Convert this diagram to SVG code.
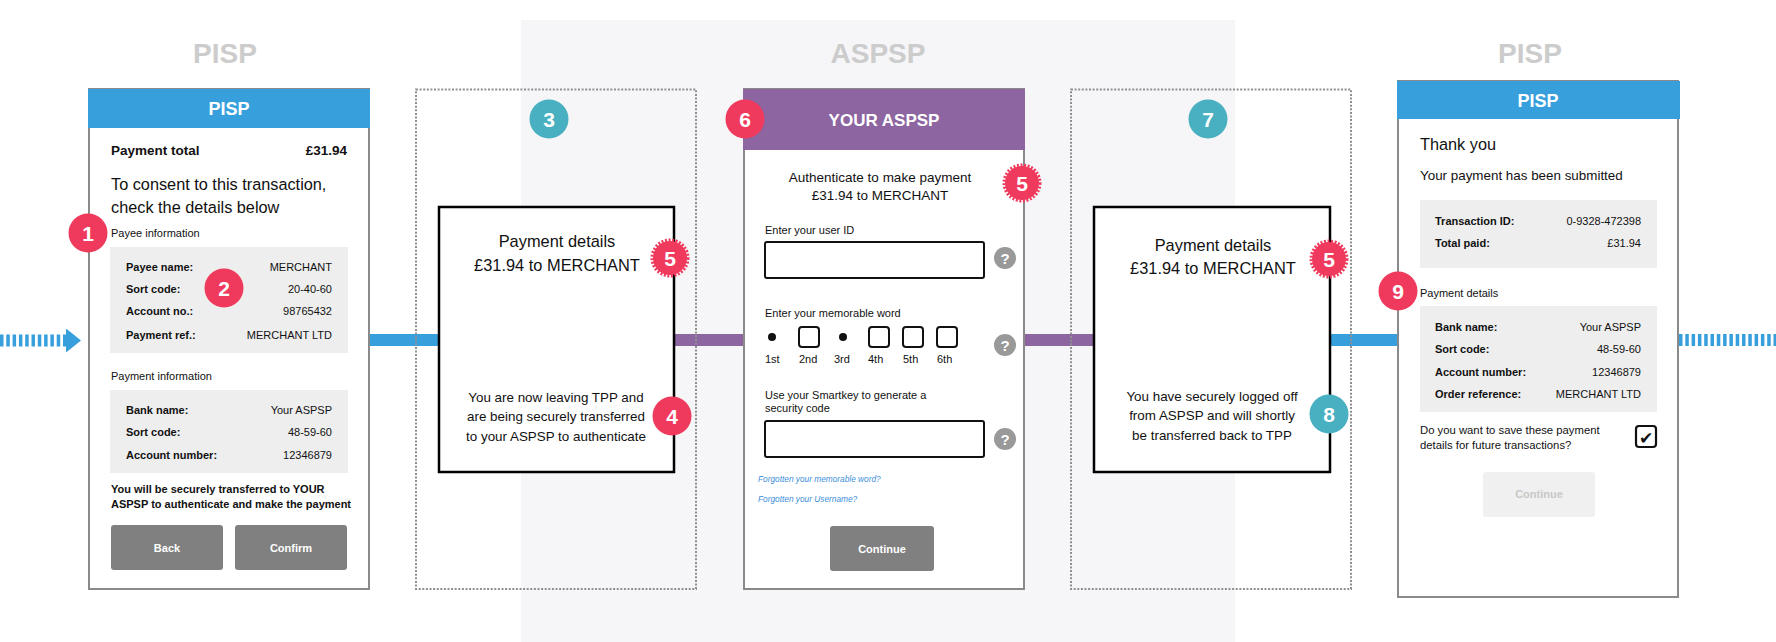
<svg xmlns="http://www.w3.org/2000/svg" width="1776" height="642" viewBox="0 0 1776 642">
<style>
text{font-family:"Liberation Sans",Arial,sans-serif;fill:#111}
.lbl{font-size:28px;font-weight:bold;fill:#cccccc;text-anchor:middle}
.hdr{font-weight:bold;fill:#fff;text-anchor:middle}
.panel{fill:#fff;stroke:#8a8a8a;stroke-width:2}
.dot{fill:none;stroke:#8f8f8f;stroke-width:2;stroke-dasharray:2 1.6}
.inner{fill:#fff;stroke:#000;stroke-width:2.5}
.grey{fill:#eeeeee}
.s11{font-size:11px}
.b11{font-size:11px;font-weight:bold}
.r{text-anchor:end}
.c{text-anchor:middle}
.btn{fill:#808080}
.btxt{font-size:11px;font-weight:bold;fill:#fff;text-anchor:middle}
.red{fill:#ef3a5d}
.teal{fill:#48b0c0}
.num{font-size:21px;font-weight:bold;fill:#fff;text-anchor:middle}
.scal{fill:none;stroke:#ef3a5d;stroke-width:3;stroke-dasharray:2 1.6}
.inp{fill:#fff;stroke:#111;stroke-width:2}
.q{fill:#999}
.qt{font-size:15px;font-weight:bold;fill:#fff;text-anchor:middle}
.link{font-size:8.3px;font-style:italic;fill:#3d8fd9}
.mid{font-size:16.4px;text-anchor:middle}
.msg{font-size:13.4px;text-anchor:middle}
.bl{stroke:#369fdc;stroke-width:12;fill:none}
.pu{stroke:#8d65a0;stroke-width:12;fill:none}
.bld{stroke:#369fdc;stroke-width:12;fill:none;stroke-dasharray:3.5 2.8}
</style>
<defs>
<marker id="ah" markerUnits="userSpaceOnUse" markerWidth="16" markerHeight="24" refX="0" refY="12" orient="auto">
<path d="M0,0 L15,12 L0,24 Z" fill="#369fdc"/>
</marker>
</defs>

<rect id="aspsp-band" x="521" y="20" width="714" height="622" fill="#f6f5f8"/>

<g id="lane-labels">
<text class="lbl" x="225" y="63">PISP</text>
<text class="lbl" x="878" y="63">ASPSP</text>
<text class="lbl" x="1530" y="63">PISP</text>
</g>

<g id="connectors">
<line class="bld" x1="0" y1="340.5" x2="66" y2="340.5" marker-end="url(#ah)"/>
<line class="bl" x1="369" y1="340" x2="440" y2="340"/>
<line class="pu" x1="673" y1="340" x2="744" y2="340"/>
<line class="pu" x1="1023" y1="340" x2="1095" y2="340"/>
<line class="bl" x1="1329" y1="340" x2="1398" y2="340"/>
<line class="bld" x1="1679" y1="340" x2="1776" y2="340"/>
</g>

<g id="screen-1">
<rect class="panel" x="89" y="89" width="280" height="500"/>
<rect x="88" y="89" width="282" height="39" fill="#369fdc"/>
<text class="hdr" x="229" y="115" font-size="18">PISP</text>
<text x="111" y="155" font-size="13.5" font-weight="bold">Payment total</text>
<text class="r" x="347" y="155" font-size="13.5" font-weight="bold">£31.94</text>
<text x="111" y="190" font-size="16.3">To consent to this transaction,</text>
<text x="111" y="213" font-size="16.3">check the details below</text>
<text class="s11" x="111" y="237">Payee information</text>
<rect class="grey" x="110" y="247" width="238" height="106"/>
<text class="b11" x="126" y="271">Payee name:</text><text class="s11 r" x="332" y="271">MERCHANT</text>
<text class="b11" x="126" y="293">Sort code:</text><text class="s11 r" x="332" y="293">20-40-60</text>
<text class="b11" x="126" y="315">Account no.:</text><text class="s11 r" x="332" y="315">98765432</text>
<text class="b11" x="126" y="339">Payment ref.:</text><text class="s11 r" x="332" y="339">MERCHANT LTD</text>
<text class="s11" x="111" y="380">Payment information</text>
<rect class="grey" x="110" y="390" width="238" height="83"/>
<text class="b11" x="126" y="414">Bank name:</text><text class="s11 r" x="332" y="414">Your ASPSP</text>
<text class="b11" x="126" y="436">Sort code:</text><text class="s11 r" x="332" y="436">48-59-60</text>
<text class="b11" x="126" y="459">Account number:</text><text class="s11 r" x="332" y="459">12346879</text>
<text class="b11" x="111" y="493">You will be securely transferred to YOUR</text>
<text class="b11" x="111" y="508">ASPSP to authenticate and make the payment</text>
<rect class="btn" x="111" y="525" width="112" height="45" rx="3"/>
<text class="btxt" x="167" y="552">Back</text>
<rect class="btn" x="235" y="525" width="112" height="45" rx="3"/>
<text class="btxt" x="291" y="552">Confirm</text>
</g>

<g id="screen-3">
<rect class="dot" x="416" y="89.5" width="280" height="499.5"/>
<rect class="inner" x="439" y="207" width="235" height="265"/>
<text class="mid" x="557" y="247">Payment details</text>
<text class="mid" x="557" y="271">£31.94 to MERCHANT</text>
<text class="msg" x="556" y="402">You are now leaving TPP and</text>
<text class="msg" x="556" y="421">are being securely transferred</text>
<text class="msg" x="556" y="441">to your ASPSP to authenticate</text>
</g>

<g id="screen-6">
<rect class="panel" x="744" y="89" width="280" height="500"/>
<rect x="743" y="89" width="282" height="61" fill="#8d65a0"/>
<text class="hdr" x="884" y="126" font-size="17">YOUR ASPSP</text>
<text class="c" x="880" y="182" font-size="13.5">Authenticate to make payment</text>
<text class="c" x="880" y="200" font-size="13.5">£31.94 to MERCHANT</text>
<text class="s11" x="765" y="234">Enter your user ID</text>
<rect class="inp" x="765" y="242" width="219" height="36" rx="2"/>
<circle class="q" cx="1005" cy="258" r="11"/><text class="qt" x="1005" y="263.5">?</text>
<text class="s11" x="765" y="317">Enter your memorable word</text>
<circle cx="772" cy="337" r="4" fill="#111"/>
<rect class="inp" x="799" y="327" width="20" height="20" rx="3"/>
<circle cx="843" cy="337" r="4" fill="#111"/>
<rect class="inp" x="869" y="327" width="20" height="20" rx="3"/>
<rect class="inp" x="903" y="327" width="20" height="20" rx="3"/>
<rect class="inp" x="937" y="327" width="20" height="20" rx="3"/>
<circle class="q" cx="1005" cy="345" r="11"/><text class="qt" x="1005" y="350.5">?</text>
<text class="s11" x="765" y="363">1st</text>
<text class="s11" x="799" y="363">2nd</text>
<text class="s11" x="834" y="363">3rd</text>
<text class="s11" x="868" y="363">4th</text>
<text class="s11" x="903" y="363">5th</text>
<text class="s11" x="937" y="363">6th</text>
<text class="s11" x="765" y="399">Use your Smartkey to generate a</text>
<text class="s11" x="765" y="412">security code</text>
<rect class="inp" x="765" y="421" width="219" height="36" rx="2"/>
<circle class="q" cx="1005" cy="439" r="11"/><text class="qt" x="1005" y="444.5">?</text>
<text class="link" x="758" y="482">Forgotten your memorable word?</text>
<text class="link" x="758" y="502">Forgotten your Username?</text>
<rect class="btn" x="830" y="526" width="104" height="45" rx="3"/>
<text class="btxt" x="882" y="553">Continue</text>
</g>

<g id="screen-7">
<rect class="dot" x="1071" y="89.5" width="280" height="499.5"/>
<rect class="inner" x="1094" y="207" width="236" height="265"/>
<text class="mid" x="1213" y="251">Payment details</text>
<text class="mid" x="1213" y="274">£31.94 to MERCHANT</text>
<text class="msg" x="1212" y="401">You have securely logged off</text>
<text class="msg" x="1212" y="420">from ASPSP and will shortly</text>
<text class="msg" x="1212" y="440">be transferred back to TPP</text>
</g>

<g id="screen-9">
<rect class="panel" x="1398" y="81" width="280" height="516"/>
<rect x="1397" y="81" width="283" height="38" fill="#369fdc"/>
<text class="hdr" x="1538" y="107" font-size="18">PISP</text>
<text x="1420" y="150" font-size="16.3">Thank you</text>
<text x="1420" y="180" font-size="13.4">Your payment has been submitted</text>
<rect class="grey" x="1420" y="200" width="237" height="68"/>
<text class="b11" x="1435" y="225">Transaction ID:</text><text class="s11 r" x="1641" y="225">0-9328-472398</text>
<text class="b11" x="1435" y="247">Total paid:</text><text class="s11 r" x="1641" y="247">£31.94</text>
<text class="s11" x="1420" y="297">Payment details</text>
<rect class="grey" x="1420" y="306" width="237" height="106"/>
<text class="b11" x="1435" y="331">Bank name:</text><text class="s11 r" x="1641" y="331">Your ASPSP</text>
<text class="b11" x="1435" y="353">Sort code:</text><text class="s11 r" x="1641" y="353">48-59-60</text>
<text class="b11" x="1435" y="376">Account number:</text><text class="s11 r" x="1641" y="376">12346879</text>
<text class="b11" x="1435" y="398">Order reference:</text><text class="s11 r" x="1641" y="398">MERCHANT LTD</text>
<text x="1420" y="434" font-size="11.3">Do you want to save these payment</text>
<text x="1420" y="449" font-size="11.3">details for future transactions?</text>
<rect x="1636" y="426" width="20" height="21" rx="3" fill="#fff" stroke="#111" stroke-width="2.2"/>
<text x="1646" y="443.5" font-size="17" text-anchor="middle" style="font-family:'DejaVu Sans',sans-serif">✔</text>
<rect x="1483" y="472" width="112" height="45" rx="3" fill="#f0f0f0"/>
<text x="1539" y="498" font-size="11" font-weight="bold" text-anchor="middle" style="fill:#c8c8c8">Continue</text>
</g>

<g id="badges">
<g id="badge-1"><circle class="red" cx="88" cy="233" r="19.5"/><text class="num" x="88" y="240.5">1</text></g>
<g id="badge-2"><circle class="red" cx="224" cy="288" r="19.5"/><text class="num" x="224" y="295.5">2</text></g>
<g id="badge-3"><circle class="teal" cx="549" cy="119" r="19.5"/><text class="num" x="549" y="126.5">3</text></g>
<g id="badge-4"><circle class="red" cx="672" cy="416" r="19.5"/><text class="num" x="672" y="423.5">4</text></g>
<g id="badge-5a"><circle class="red" cx="670" cy="258" r="17"/><circle class="scal" cx="670" cy="258" r="18"/><text class="num" x="670" y="265.5">5</text></g>
<g id="badge-5b"><circle class="red" cx="1022" cy="183" r="17"/><circle class="scal" cx="1022" cy="183" r="18"/><text class="num" x="1022" y="190.5">5</text></g>
<g id="badge-5c"><circle class="red" cx="1329" cy="259" r="17"/><circle class="scal" cx="1329" cy="259" r="18"/><text class="num" x="1329" y="266.5">5</text></g>
<g id="badge-6"><circle class="red" cx="745" cy="119" r="19.5"/><text class="num" x="745" y="126.5">6</text></g>
<g id="badge-7"><circle class="teal" cx="1208" cy="119" r="19.5"/><text class="num" x="1208" y="126.5">7</text></g>
<g id="badge-8"><circle class="teal" cx="1329" cy="414" r="19.5"/><text class="num" x="1329" y="421.5">8</text></g>
<g id="badge-9"><circle class="red" cx="1398" cy="291" r="19.5"/><text class="num" x="1398" y="298.5">9</text></g>
</g>
</svg>
